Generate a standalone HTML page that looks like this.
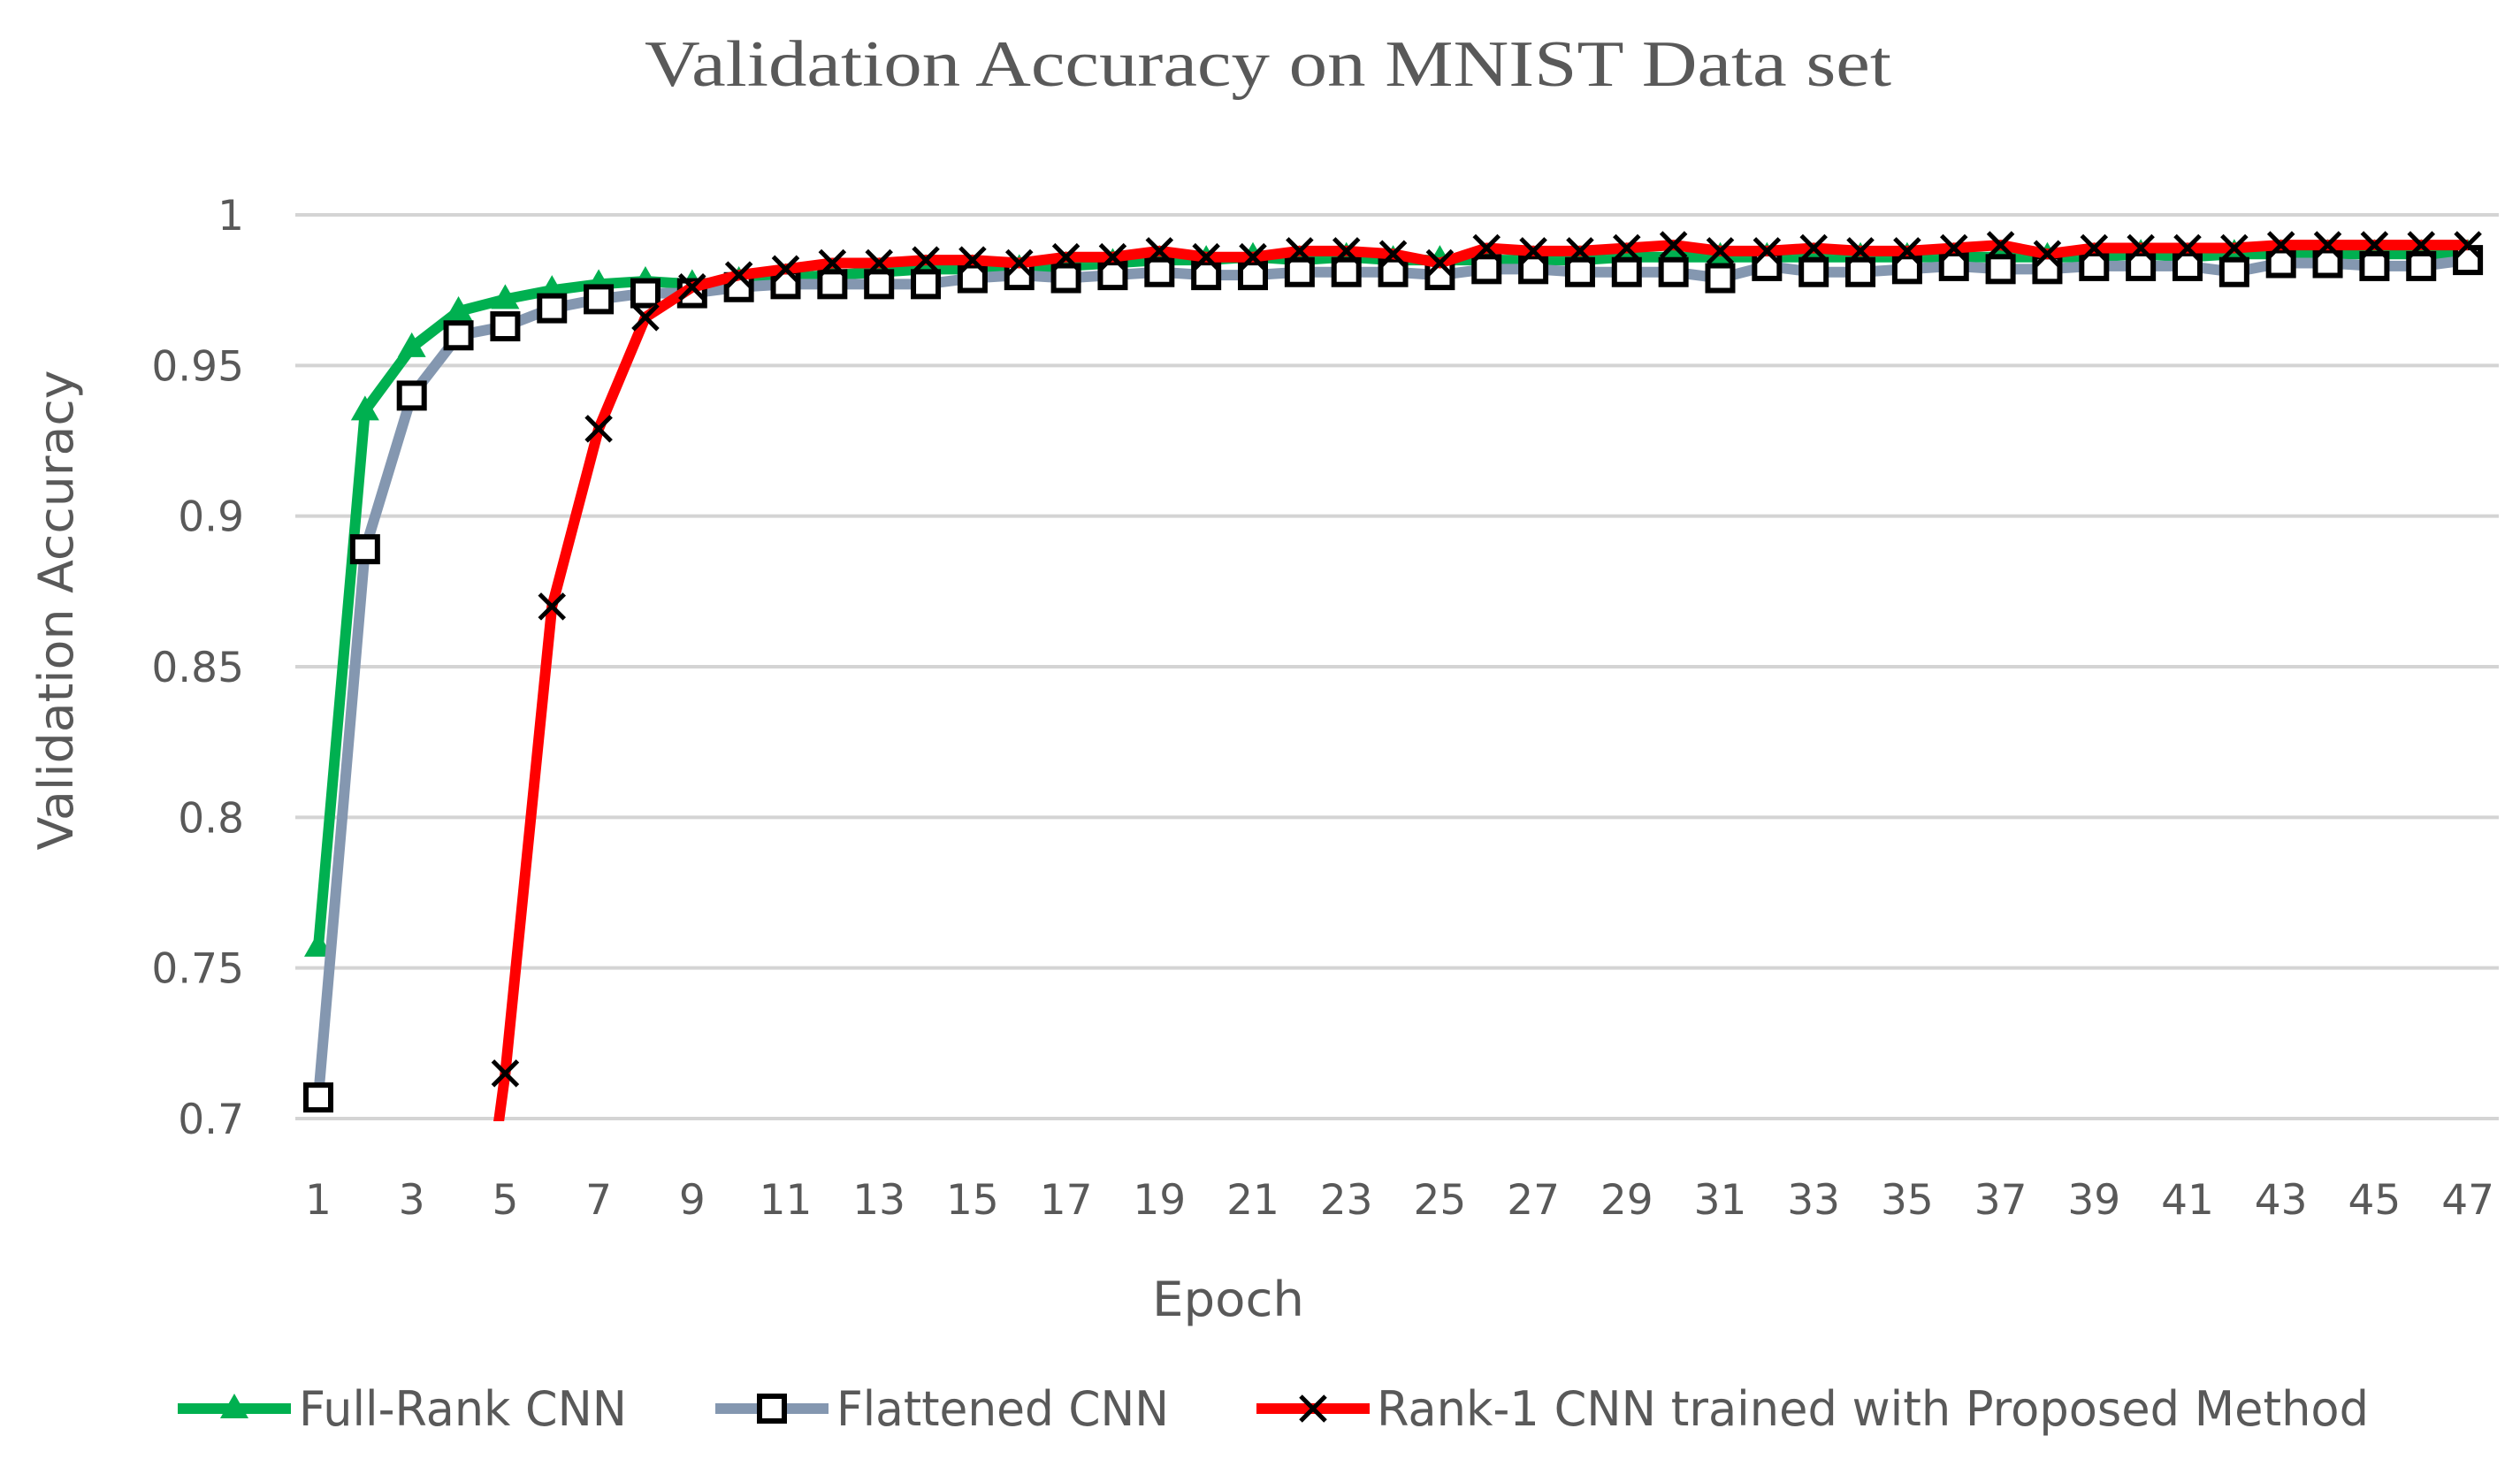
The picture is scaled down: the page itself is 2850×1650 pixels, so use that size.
<!DOCTYPE html>
<html><head><meta charset="utf-8"><style>
html,body{margin:0;padding:0;background:#fff;width:2850px;height:1650px;overflow:hidden}
svg text{font-family:"DejaVu Sans","Liberation Sans",sans-serif;fill:#595959}
</style></head><body>
<svg id="chart" width="2850" height="1650" viewBox="0 0 2850 1650" xmlns="http://www.w3.org/2000/svg">
<text x="729" y="97" textLength="1410" lengthAdjust="spacingAndGlyphs" style="font-family:'Liberation Serif',serif;font-size:74px">Validation Accuracy on MNIST Data set</text>
<g id="grid"></g>
<g id="yticks"></g>
<g id="xticks"></g>
<text transform="translate(82,690) rotate(-90)" text-anchor="middle" font-size="54" textLength="543" lengthAdjust="spacingAndGlyphs">Validation Accuracy</text>
<text x="1303" y="1488" font-size="54" textLength="172" lengthAdjust="spacingAndGlyphs">Epoch</text>
<defs><clipPath id="plotclip"><rect x="334" y="200" width="2500" height="1068"/></clipPath></defs>
<g id="series" clip-path="url(#plotclip)"></g>
<g id="legend"></g>
</svg>
<script>
const epochs = Array.from({length:47},(_,i)=>i+1);
const yTicks = [0.7,0.75,0.8,0.85,0.9,0.95,1];
const yTickLabels = ["0.7","0.75","0.8","0.85","0.9","0.95","1"];
const xTickLabels = [1,3,5,7,9,11,13,15,17,19,21,23,25,27,29,31,33,35,37,39,41,43,45,47];
const fullRank = [0.757,0.935,0.956,0.968,0.972,0.975,0.977,0.978,0.977,0.978,0.979,0.980,0.981,0.982,0.982,0.982,0.983,0.984,0.985,0.985,0.986,0.985,0.986,0.985,0.985,0.985,0.985,0.985,0.986,0.986,0.986,0.986,0.986,0.986,0.986,0.986,0.986,0.986,0.986,0.987,0.986,0.987,0.987,0.987,0.987,0.987,0.987];
const flattened = [0.707,0.889,0.940,0.960,0.963,0.969,0.972,0.974,0.974,0.976,0.977,0.977,0.977,0.977,0.979,0.980,0.979,0.980,0.981,0.980,0.980,0.981,0.981,0.981,0.980,0.982,0.982,0.981,0.981,0.981,0.979,0.983,0.981,0.981,0.982,0.983,0.982,0.982,0.983,0.983,0.983,0.981,0.984,0.984,0.983,0.983,0.985];
const rank1 = [null,null,null,0.60,0.715,0.870,0.929,0.966,0.976,0.980,0.982,0.984,0.984,0.985,0.985,0.984,0.986,0.986,0.988,0.986,0.986,0.988,0.988,0.987,0.984,0.989,0.988,0.988,0.989,0.990,0.988,0.988,0.989,0.988,0.988,0.989,0.990,0.987,0.989,0.989,0.989,0.989,0.990,0.990,0.990,0.990,0.990];
const NS="http://www.w3.org/2000/svg";
const xS = e => 360 + (e-1)*52.85;
const yS = v => 1265 - (v-0.7)/0.3*1022;
function mk(tag,attrs,parent){const el=document.createElementNS(NS,tag);for(const k in attrs)el.setAttribute(k,attrs[k]);parent.appendChild(el);return el;}
const grid=document.getElementById('grid'),yt=document.getElementById('yticks'),xt=document.getElementById('xticks'),ser=document.getElementById('series'),leg=document.getElementById('legend');
yTicks.forEach((v,i)=>{
  const l=mk('line',{x1:334,x2:2826,y1:yS(v),y2:yS(v),stroke:'#d4d4d4','stroke-width':4},grid);
  
  
  const t=mk('text',{x:276,y:yS(v)+17,'text-anchor':'end','font-size':47},yt);t.textContent=yTickLabels[i];
  
  
});
xTickLabels.forEach(e=>{
  const t=mk('text',{x:xS(e),y:1373,'text-anchor':'middle','font-size':47},xt);t.textContent=e;
  
  
});
function tri(g,x,y,c){const p=mk('polygon',{points:`${x},${y-17} ${x-16},${y+11} ${x+16},${y+11}`,fill:c},g);return p;}
function sq(g,x,y){return mk('rect',{x:x-14,y:y-14,width:28,height:28,fill:'#fff',stroke:'#000','stroke-width':6},g);}
function cross(g,x,y){const p=mk('path',{d:`M${x-14},${y-14}L${x+14},${y+14}M${x+14},${y-14}L${x-14},${y+14}`,stroke:'#000','stroke-width':5},g);return p;}
function drawSeries(vals,color,name,marker){
  const g=mk('g',{},ser);
  
  
  const pts=[];vals.forEach((v,i)=>{if(v!==null)pts.push([xS(epochs[i]),yS(v)]);});
  const pl=mk('polyline',{points:pts.map(p=>p.join(',')).join(' '),fill:'none',stroke:color,'stroke-width':12,'stroke-linejoin':'round'},g);
  
  
  pts.forEach(p=>{const m=marker(g,p[0],p[1],color);
    
    });
}
drawSeries(fullRank,'#00b050','full-rank-series',tri);
drawSeries(flattened,'#8497b0','flattened-series',sq);
drawSeries(rank1,'#ff0000','rank1-series',cross);
const items=[['#00b050','Full-Rank CNN',201,338,tri,371],['#8497b0','Flattened CNN',809,946,sq,376],['#ff0000','Rank-1 CNN trained with Proposed Method',1421,1557,cross,1122]];
items.forEach(it=>{
  const g=mk('g',{},leg);
  
  
  mk('line',{x1:it[2],x2:it[2]+128,y1:1593,y2:1593,stroke:it[0],'stroke-width':12},g);
  it[4](g,it[2]+64,1593,it[0]);
  const t=mk('text',{x:it[3],y:1612,'font-size':54,textLength:it[5],lengthAdjust:'spacingAndGlyphs'},g);t.textContent=it[1];
});
</script>
</body></html>
